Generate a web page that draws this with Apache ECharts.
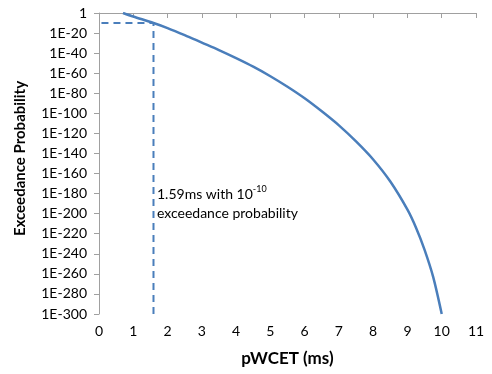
<!DOCTYPE html>
<html>
<head>
<meta charset="utf-8">
<script src="https://cdn.jsdelivr.net/npm/echarts@6/dist/echarts.min.js"></script>
<style>html,body{margin:0;padding:0;background:#fff;}#c{width:492px;height:374px;}</style>
</head>
<body>
<div id="c"></div>
<script>
// pWCET in ms
var pwcet = [0.7, 1.0, 1.59, 2.0, 2.5, 3.0, 3.5, 4.0, 4.5, 5.0, 5.5, 6.0, 6.5, 7.0, 7.5, 8.0, 8.5, 9.0, 9.25, 9.5, 9.75, 10.0];
// exceedance probability, as base-10 exponent (1E-n -> -n)
var exceedanceExp = [0, -3.5, -10, -15, -22, -29.5, -37, -45, -53.5, -63, -73.5, -85, -98, -112, -128, -146, -168, -196, -214, -236, -263, -300];
// marker
var markerX = 1.59;
var markerExp = -10;
var yMin = -300, yMax = 0, yStep = 20;
var xMin = 0, xMax = 11, xStep = 1;

var FONT = 'Lato';
var BLUE = '#4a7ebb';
var chart = echarts.init(document.getElementById('c'));
chart.setOption({
  animation: false,
  grid: {left: 99, right: 16, top: 13, bottom: 60},
  xAxis: {
    type: 'value', min: xMin, max: xMax, interval: xStep,
    name: 'pWCET (ms)', nameLocation: 'middle', nameGap: 36,
    nameTextStyle: {fontFamily: FONT, fontWeight: 'bold', fontSize: 17, color: '#000'},
    axisLine: {lineStyle: {color: '#a0a0a0', width: 1}},
    axisTick: {show: true, length: 5, lineStyle: {color: '#a0a0a0'}},
    axisLabel: {fontFamily: FONT, fontSize: 14, color: '#000', margin: 10},
    splitLine: {show: false}
  },
  yAxis: {
    type: 'value', min: yMin, max: yMax, interval: yStep,
    name: 'Exceedance Probability', nameLocation: 'middle', nameGap: 71,
    nameTextStyle: {fontFamily: FONT, fontWeight: 'bold', fontSize: 15, color: '#000', padding: [0, 0, 0, 10]},
    axisLine: {show: true, lineStyle: {color: '#a0a0a0', width: 1}},
    axisTick: {show: true, length: 5, lineStyle: {color: '#a0a0a0'}},
    axisLabel: {fontFamily: FONT, fontSize: 14, color: '#000', margin: 12,
      formatter: function (v) { return v === 0 ? '1' : '1E' + v; }},
    splitLine: {show: false}
  },
  series: [
    {
      type: 'line', smooth: 0.3, showSymbol: false,
      lineStyle: {color: BLUE, width: 2.5},
      data: pwcet.map(function (x, i) { return [x, exceedanceExp[i]]; })
    },
    {
      type: 'line', showSymbol: false,
      lineStyle: {color: BLUE, width: 2, type: [7, 5]},
      data: [[markerX, yMin], [markerX, markerExp], [xMin, markerExp]]
    }
  ],
  graphic: [{
    type: 'text', left: 157, top: 185,
    style: {
      text: '{a|1.59ms with 10}{s|-10}\n{a|exceedance probability}',
      rich: {
        a: {fontFamily: FONT, fontSize: 14, fill: '#000', lineHeight: 19},
        s: {fontFamily: FONT, fontSize: 9, fill: '#000', verticalAlign: 'top', lineHeight: 19, padding: [0, 0, 6, 0]}
      }
    }
  }]
});
</script>
</body>
</html>
